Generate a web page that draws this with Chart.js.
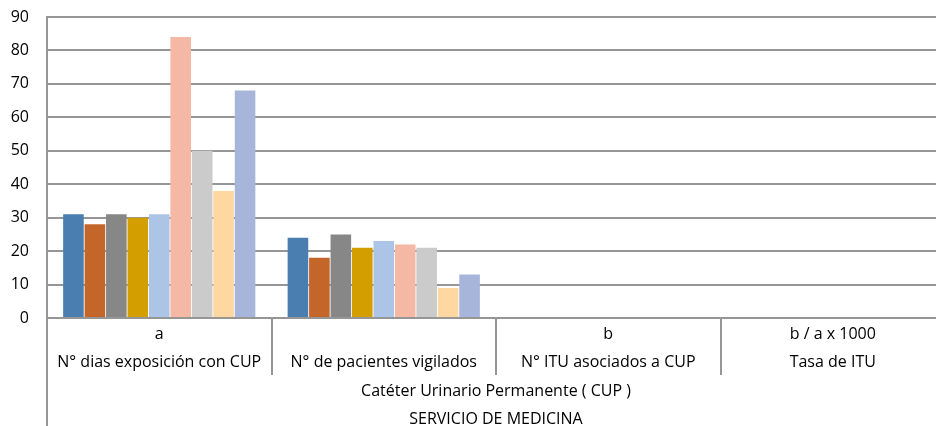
<!DOCTYPE html>
<html>
<head>
<meta charset="utf-8">
<script src="https://cdn.jsdelivr.net/npm/chart.js@4"></script>
<style>
  html, body { margin: 0; padding: 0; background: #fff; overflow: hidden; }
  #wrap { position: relative; width: 946px; height: 426px; }
</style>
</head>
<body>
<div id="wrap"><canvas id="chart"></canvas></div>
<script>
// categorias del eje X (dos filas) y agrupaciones
const topLabels = ["a", "", "b", "b / a x 1000"];
const categories = ["N° dias exposición con CUP", "N° de pacientes vigilados", "N° ITU asociados a CUP", "Tasa de ITU"];
const groupLabel = "Catéter Urinario Permanente ( CUP )";
const serviceLabel = "SERVICIO DE MEDICINA";

// valores por categoria (una barra por serie)
const diasExposicion = [31, 28, 31, 30, 31, 84, 50, 38, 68];
const pacientesVigilados = [24, 18, 25, 21, 23, 22, 21, 9, 13];
const ituAsociados = [null, null, null, null, null, null, null, null, null];
const tasaItu = [null, null, null, null, null, null, null, null, null];

const seriesNames = ["Serie 1", "Serie 2", "Serie 3", "Serie 4", "Serie 5", "Serie 6", "Serie 7", "Serie 8", "Serie 9"];
const colors = ["#4a7eb0", "#c4652a", "#878787", "#d39e00", "#acc5e6", "#f4b8a4", "#cbcbcb", "#fed8a0", "#a7b5da"];

const yTicks = [0, 10, 20, 30, 40, 50, 60, 70, 80, 90];

const FONT = "'Open Sans', 'Liberation Sans', sans-serif";
const gridColor = "#969696";

const datasets = seriesNames.map((name, i) => ({
  label: name,
  data: [diasExposicion[i], pacientesVigilados[i], ituAsociados[i], tasaItu[i]],
  backgroundColor: colors[i],
  borderWidth: 0,
  barPercentage: 0.96,
  categoryPercentage: 0.86,
}));

// filas de etiquetas bajo el eje
const labelRows = {
  id: "labelRows",
  afterDraw(chart) {
    const ctx = chart.ctx;
    const x = chart.scales.x;
    const bottom = chart.chartArea.bottom;
    ctx.save();
    ctx.fillStyle = "#000";
    ctx.font = "16px " + FONT;
    ctx.textAlign = "center";
    ctx.textBaseline = "middle";
    categories.forEach((c, i) => {
      const px = x.getPixelForValue(i);
      ctx.fillText(topLabels[i], px, bottom + 16);
      ctx.fillText(c, px, bottom + 44);
    });
    const mid = (x.left + x.right) / 2;
    ctx.fillText(groupLabel, mid, bottom + 73);
    ctx.fillText(serviceLabel, mid, bottom + 101);
    // linea izquierda hasta el borde inferior
    ctx.strokeStyle = gridColor;
    ctx.lineWidth = 2;
    ctx.beginPath();
    ctx.moveTo(x.left, bottom);
    ctx.lineTo(x.left, chart.height);
    ctx.stroke();
    ctx.restore();
  }
};

new Chart(document.getElementById("chart"), {
  type: "bar",
  data: { labels: categories, datasets: datasets },
  options: {
    responsive: true,
    maintainAspectRatio: false,
    animation: false,
    layout: { padding: { top: 17, right: 1, left: 0, bottom: 0 } },
    plugins: { legend: { display: false }, tooltip: { enabled: false } },
    scales: {
      x: {
        grid: { offset: true, drawOnChartArea: false, drawTicks: true, tickLength: 57, color: gridColor, lineWidth: 2 },
        border: { color: gridColor, width: 2 },
        ticks: { display: false },
        afterFit(scale) { scale.height = 108; }
      },
      y: {
        min: 0,
        max: 90,
        afterBuildTicks(scale) { scale.ticks = yTicks.map(v => ({ value: v })); },
        grid: { color: gridColor, lineWidth: 2, drawTicks: false },
        border: { color: gridColor, width: 2 },
        ticks: { padding: 18, color: "#000", font: { family: FONT, size: 16 } },
        afterFit(scale) {
          scale.width = 47;
          scale.paddingTop = 0;
          scale.paddingBottom = 0;
        }
      }
    }
  },
  plugins: [labelRows]
});
</script>
</body>
</html>
